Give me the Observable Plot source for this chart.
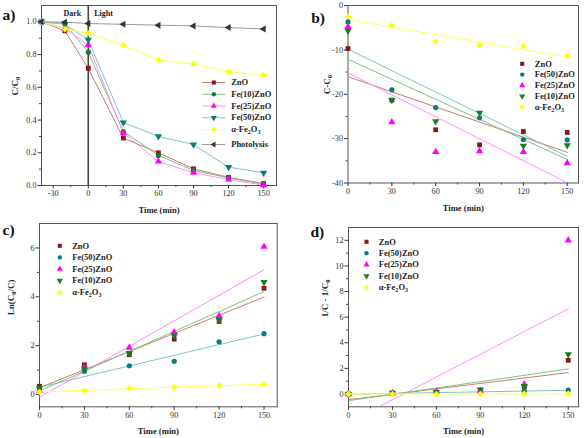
<!DOCTYPE html>
<html><head><meta charset="utf-8">
<script src="https://cdn.jsdelivr.net/npm/d3@7"></script>
<script src="https://cdn.jsdelivr.net/npm/@observablehq/plot@0.6"></script>
<style>
body{margin:0;background:#fff;}
#wrap{position:relative;width:585px;height:438px;overflow:hidden;background:#fff;}
.panel{position:absolute;}
</style></head><body><div id="wrap"></div>
<script>
// ---------- data ----------
// panel a: C/C0 vs time
const timeA = [-40, -20, 0, 30, 60, 90, 120, 150];
const aZnO   = [1.0, 0.945, 0.716, 0.29, 0.20, 0.102, 0.05, 0.012];
const aFe10  = [1.0, 0.99, 0.814, 0.33, 0.184, 0.092, 0.047, 0.008];
const aFe25  = [1.0, 0.96, 0.859, 0.32, 0.147, 0.078, 0.037, 0.002];
const aFe50  = [1.0, 0.985, 0.89, 0.385, 0.30, 0.25, 0.112, 0.078];
const aFe2O3 = [1.0, 0.955, 0.93, 0.855, 0.767, 0.742, 0.695, 0.675];
const aPhoto = [1.0, 0.998, 0.99, 0.985, 0.98, 0.975, 0.965, 0.957];
// panels b-d share time
const time = [0, 30, 60, 90, 120, 150];
// panel b: C - C0
const bZnO   = [-9.7, -21.3, -28.0, -31.4, -28.4, -28.6];
const bFe50  = [-3.7, -19.0, -23.0, -25.3, -30.2, -30.3];
const bFe25  = [-4.8, -26.3, -33.0, -32.8, -33.0, -35.5];
const bFe10  = [-5.7, -21.3, -26.1, -24.2, -31.6, -31.5];
const bFe2O3 = [-2.5, -4.5, -8.1, -8.9, -9.1, -11.4];
// panel c: ln(C0/C)
const cZnO   = [0.34, 1.22, 1.63, 2.27, 2.99, 4.35];
const cFe50  = [0.20, 0.95, 1.18, 1.36, 2.16, 2.49];
const cFe25  = [0.15, 1.10, 1.92, 2.55, 3.22, 6.05];
const cFe10  = [0.25, 1.06, 1.70, 2.41, 3.06, 4.60];
const cFe2O3 = [0.11, 0.16, 0.26, 0.30, 0.37, 0.41];
// panel d: 1/C - 1/C0
const dZnO   = [0, 0.07, 0.12, 0.27, 0.58, 2.63];
const dFe50  = [0, 0.05, 0.10, 0.15, 0.22, 0.31];
const dFe25  = [0, 0.06, 0.20, 0.25, 0.76, 12.0];
const dFe10  = [0, 0.08, 0.15, 0.35, 0.62, 3.10];
const dFe2O3 = [0, 0.004, 0.008, 0.010, 0.013, 0.015];

const namesA = ["ZnO", "Fe(10)ZnO", "Fe(25)ZnO", "Fe(50)ZnO", "α-Fe₂O₃", "Photolysis"];
const namesK = ["ZnO", "Fe(50)ZnO", "Fe(25)ZnO", "Fe(10)ZnO", "α-Fe₂O₃"];

// ---------- styles ----------
const COL = {
  maroon: {m: "#8b1616", l: "#c67d74"},
  green:  {m: "#187c26", l: "#7cc47e"},
  teal:   {m: "#0b7d78", l: "#7fc6c4"},
  mag:    {m: "#ff00ff", l: "#ff8cff"},
  yel:    {m: "#ffff00", l: "#ffff55"},
  grey:   {m: "#333333", l: "#9a9a9a"}
};
const stylesA = {
  "ZnO":        {c: COL.maroon, sym: "square", rot: 0, r: 2.7},
  "Fe(10)ZnO":  {c: COL.green, sym: "circle", rot: 0, r: 2.6},
  "Fe(25)ZnO":  {c: COL.mag, sym: "triangle", rot: 0, r: 2.7},
  "Fe(50)ZnO":  {c: COL.teal, sym: "triangle", rot: 180, r: 2.7},
  "α-Fe₂O₃":    {c: COL.yel, sym: "diamond2", rot: 0, r: 2.9},
  "Photolysis": {c: COL.grey, sym: "triangle", rot: -90, r: 2.6}
};
const stylesK = {
  "ZnO":       {c: COL.maroon, sym: "square", rot: 0, r: 2.7},
  "Fe(50)ZnO": {c: COL.teal, sym: "circle", rot: 0, r: 2.6},
  "Fe(25)ZnO": {c: COL.mag, sym: "triangle", rot: 0, r: 2.7},
  "Fe(10)ZnO": {c: COL.green, sym: "triangle", rot: 180, r: 2.7},
  "α-Fe₂O₃":   {c: COL.yel, sym: "diamond2", rot: 0, r: 2.9}
};

function table(xs, names, cols) {
  const out = [];
  names.forEach((n, i) => cols[i].forEach((v, j) => out.push({series: n, t: xs[j], v})));
  return out;
}
const dataA = table(timeA, namesA, [aZnO, aFe10, aFe25, aFe50, aFe2O3, aPhoto]);
const dataB = table(time, namesK, [bZnO, bFe50, bFe25, bFe10, bFe2O3]);
const dataC = table(time, namesK, [cZnO, cFe50, cFe25, cFe10, cFe2O3]);
const dataD = table(time, namesK, [dZnO, dFe50, dFe25, dFe10, dFe2O3]);

const FONT = "'Liberation Serif', 'Times New Roman', serif";
const hline = {draw(ctx) { ctx.moveTo(-11.7, 0); ctx.lineTo(11.7, 0); }};
const hyph = d => String(d);

function subscriptify(svg) {
  svg.querySelectorAll("text").forEach(t => {
    if (t.children.length) return;
    const s = t.textContent;
    if (!/[\u2080-\u2089]/.test(s)) return;
    t.textContent = "";
    const parts = s.match(/[\u2080-\u2089]+|[^\u2080-\u2089]+/g);
    let shifted = false;
    parts.forEach(p => {
      const ts = document.createElementNS("http://www.w3.org/2000/svg", "tspan");
      if (/[\u2080-\u2089]/.test(p)) {
        ts.textContent = [...p].map(c => String(c.charCodeAt(0) - 0x2080)).join("");
        ts.setAttribute("font-size", "72%");
        ts.setAttribute("dy", "0.3em");
        shifted = true;
      } else {
        ts.textContent = p;
        if (shifted) { ts.setAttribute("dy", "-0.22em"); shifted = false; }
      }
      t.appendChild(ts);
    });
  });
}

function panel(cfg) {
  const m = [];
  m.push(Plot.frame({stroke: "#555", strokeWidth: 1}));
  // axes
  m.push(Plot.axisX({ticks: cfg.xMinor, tickSize: 2, tickFormat: () => "", label: null, color: "#444"}));
  m.push(Plot.axisX({ticks: cfg.xTicks, tickSize: 3.5, tickPadding: 1.5, tickFormat: hyph, label: null, color: "#333", fontSize: 8.2}));
  m.push(Plot.axisY({ticks: cfg.yMinor, tickSize: 2, tickFormat: () => "", label: null, color: "#444"}));
  m.push(Plot.axisY({ticks: cfg.yTicks, tickSize: 3.5, tickPadding: 1.5, tickFormat: cfg.yFormat || hyph, label: null, color: "#333", fontSize: 8.2}));
  // titles
  m.push(Plot.text(["Time (min)"], {text: d => d, frameAnchor: "bottom", dy: cfg.xTitleDy, lineAnchor: "middle", fontWeight: "bold", fontSize: 8.6, fill: "#222"}));
  m.push(Plot.text([cfg.yTitle], {text: d => d, frameAnchor: "left", dx: cfg.yTitleDx, rotate: -90, lineAnchor: "middle", fontWeight: "bold", fontSize: 9, fill: "#222"}));
  m.push(Plot.text([cfg.tag], {text: d => d, frameAnchor: "top-left", dx: cfg.tagDx, dy: cfg.tagDy, textAnchor: "start", lineAnchor: "middle", fontWeight: "bold", fontSize: 15.5, fill: "#111"}));
  if (cfg.extra) m.push(...cfg.extra);
  // series
  cfg.names.forEach(n => {
    const s = cfg.styles[n];
    const d = cfg.data.filter(e => e.series === n);
    if (cfg.connect) m.push(Plot.line(d, {x: "t", y: "v", stroke: s.c.l, strokeWidth: 1}));
    if (cfg.regress) m.push(Plot.linearRegressionY(d, {x: "t", y: "v", stroke: s.c.l, strokeWidth: 1, ci: 0, clip: true}));
  });
  cfg.names.forEach(n => {
    const s = cfg.styles[n];
    const d = cfg.data.filter(e => e.series === n);
    m.push(Plot.dot(d, {x: "t", y: "v", symbol: s.sym, rotate: s.rot, r: s.r, fill: s.c.m, stroke: "none"}));
  });
  // legend
  cfg.names.forEach((n, i) => {
    const s = cfg.styles[n];
    const dy = cfg.leg.y0 + i * cfg.leg.step + (i >= 5 ? cfg.leg.extra : 0);
    if (cfg.leg.line) m.push(Plot.dot([0], {frameAnchor: "top-left", dx: cfg.leg.mx, dy, symbol: hline, r: 3, stroke: s.c.l, fill: "none", strokeWidth: 1}));
    m.push(Plot.dot([0], {frameAnchor: "top-left", dx: cfg.leg.mx, dy, symbol: s.sym, rotate: s.rot, r: s.r * 0.85, fill: s.c.m, stroke: "none"}));
    m.push(Plot.text([n], {text: d => d, frameAnchor: "top-left", dx: cfg.leg.tx, dy, textAnchor: "start", lineAnchor: "middle", fontWeight: "bold", fontSize: 8.5, fill: "#222"}));
  });

  const svg = Plot.plot({
    width: cfg.w, height: cfg.h,
    marginLeft: cfg.ml, marginRight: cfg.mr, marginTop: cfg.mt, marginBottom: cfg.mb,
    x: {domain: cfg.xDomain},
    y: {domain: cfg.yDomain},
    style: {fontFamily: FONT, fontSize: "8px", background: "transparent", overflow: "visible", color: "#222"},
    marks: m
  });
  subscriptify(svg);
  const div = document.createElement("div");
  div.className = "panel";
  div.style.left = cfg.left + "px";
  div.style.top = cfg.top + "px";
  div.appendChild(svg);
  document.getElementById("wrap").appendChild(div);
}

// panel a
panel({
  left: 0, top: 0, w: 290, h: 218, ml: 41, mr: 14, mt: 5, mb: 33,
  xDomain: [-40, 161], yDomain: [0, 1.1],
  xTicks: [-30, 0, 30, 60, 90, 120, 150], xMinor: [-15, 15, 45, 75, 105, 135],
  yTicks: [0, 0.2, 0.4, 0.6, 0.8, 1.0], yMinor: [0.1, 0.3, 0.5, 0.7, 0.9], yFormat: d3.format(".1f"),
  yTitle: "C/C₀", yTitleDx: -26, xTitleDy: 25, tag: "a)", tagDx: -39, tagDy: 9.5,
  names: namesA, styles: stylesA, data: dataA, connect: true,
  leg: {mx: 172.3, tx: 189.7, y0: 77, step: 11.75, extra: 3.3, line: true},
  extra: [
    Plot.ruleX([0], {stroke: "#444", strokeWidth: 1.6}),
    Plot.text([0], {x: d => d, text: () => "Dark", frameAnchor: "top", dy: 8, dx: -7, textAnchor: "end", lineAnchor: "middle", fontWeight: "bold", fontSize: 8, fill: "#222"}),
    Plot.text([0], {x: d => d, text: () => "Light", frameAnchor: "top", dy: 8, dx: 6, textAnchor: "start", lineAnchor: "middle", fontWeight: "bold", fontSize: 8, fill: "#222"})
  ]
});
// panel b
panel({
  left: 290, top: 0, w: 295, h: 218, ml: 57.5, mr: 7, mt: 5, mb: 35.5,
  xDomain: [0, 157.7], yDomain: [-40, 0],
  xTicks: [0, 30, 60, 90, 120, 150], xMinor: [15, 45, 75, 105, 135],
  yTicks: [-40, -30, -20, -10, 0], yMinor: [-35, -25, -15, -5],
  yTitle: "C-C₀", yTitleDx: -21, xTitleDy: 25.5, tag: "b)", tagDx: -36.8, tagDy: 12.8,
  names: namesK, styles: stylesK, data: dataB, regress: true,
  leg: {mx: 174.2, tx: 186.8, y0: 58.3, step: 10.8, extra: 0, line: false}
});
// panel c
panel({
  left: 0, top: 218, w: 290, h: 220, ml: 39, mr: 13.3, mt: 5, mb: 31.7,
  xDomain: [0, 158.8], yDomain: [-0.5, 7],
  xTicks: [0, 30, 60, 90, 120, 150], xMinor: [15, 45, 75, 105, 135],
  yTicks: [0, 2, 4, 6], yMinor: [1, 3, 5],
  yTitle: "Ln(C₀/C)", yTitleDx: -28.3, xTitleDy: 24, tag: "c)", tagDx: -37, tagDy: 6.7,
  names: namesK, styles: stylesK, data: dataC, regress: true,
  leg: {mx: 20.3, tx: 32.7, y0: 22.3, step: 11.6, extra: 0, line: false}
});
// panel d
panel({
  left: 290, top: 218, w: 295, h: 220, ml: 58, mr: 7, mt: 9, mb: 31.7,
  xDomain: [0, 157], yDomain: [-1, 13],
  xTicks: [0, 30, 60, 90, 120, 150], xMinor: [15, 45, 75, 105, 135],
  yTicks: [0, 2, 4, 6, 8, 10, 12], yMinor: [1, 3, 5, 7, 9, 11],
  yTitle: "1/C - 1/C₀", yTitleDx: -23, xTitleDy: 24, tag: "d)", tagDx: -38, tagDy: 5,
  names: namesK, styles: stylesK, data: dataD, regress: true,
  leg: {mx: 18, tx: 30.3, y0: 14.3, step: 11.4, extra: 0, line: false}
});
</script></body></html>
